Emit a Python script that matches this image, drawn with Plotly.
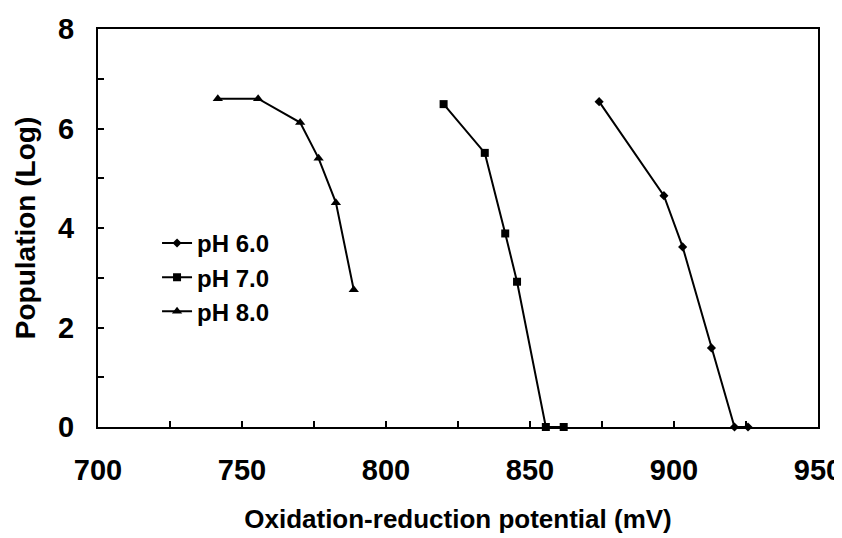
import plotly.graph_objects as go

# Data
ph6_x = [874, 896.5, 903, 913, 921, 925.7]
ph6_y = [6.54, 4.65, 3.62, 1.59, 0.0, 0.0]
ph7_x = [820, 834.3, 841.4, 845.5, 855.5, 861.7]
ph7_y = [6.49, 5.51, 3.89, 2.92, 0.0, 0.0]
ph8_x = [741.6, 755.6, 770.2, 776.6, 782.6, 788.8]
ph8_y = [6.6, 6.6, 6.12, 5.4, 4.51, 2.76]

series_names = ["pH 6.0", "pH 7.0", "pH 8.0"]
x_ticks = [700, 750, 800, 850, 900, 950]
y_ticks = [0, 2, 4, 6, 8]

FONT = "Liberation Sans Narrow, Arial Narrow, Liberation Sans, Arial, sans-serif"

fig = go.Figure()
for name, xs, ys, sym, size in [
    (series_names[0], ph6_x, ph6_y, "diamond", 7),
    (series_names[1], ph7_x, ph7_y, "square", 8),
    (series_names[2], ph8_x, ph8_y, "triangle-up", 9),
]:
    fig.add_trace(go.Scatter(
        x=xs, y=ys, name=name, mode="lines+markers",
        line=dict(color="black", width=2),
        marker=dict(symbol=sym, size=size, color="black"),
        cliponaxis=False,
    ))

axis_common = dict(
    showline=True, linecolor="black", linewidth=2, mirror=True,
    showgrid=False, zeroline=False, ticks="inside", ticklen=6,
    tickcolor="black", tickwidth=1.5, ticklabeloverflow="allow",
    automargin=False,
    tickfont=dict(family=FONT, size=29, color="black", weight="bold"),
)

fig.update_xaxes(
    range=[700, 950], tickvals=x_ticks, ticktext=[str(v) for v in x_ticks],
    minor=dict(ticks="inside", dtick=25, ticklen=6, tickcolor="black", tickwidth=1.5),
    ticklabelstandoff=16,
    title=dict(text="Oxidation-reduction potential (mV)",
               font=dict(family=FONT, size=26, color="black", weight="bold"),
               standoff=25),
    **axis_common,
)
fig.update_yaxes(
    range=[0, 8], tickvals=y_ticks, ticktext=[str(v) for v in y_ticks],
    minor=dict(ticks="inside", dtick=1, ticklen=6, tickcolor="black", tickwidth=1.5),
    ticklabelstandoff=16,
    title=dict(text="Population (Log)",
               font=dict(family=FONT, size=28, color="black", weight="bold"),
               standoff=14),
    **axis_common,
)

fig.update_layout(
    width=842, height=538,
    margin=dict(l=90, r=32, t=21, b=119),
    paper_bgcolor="white", plot_bgcolor="white",
    showlegend=True,
    legend=dict(x=0.082, y=0.518, xanchor="left", yanchor="top",
                bgcolor="rgba(0,0,0,0)",
                font=dict(family=FONT, size=24, color="black", weight="bold"),
                tracegroupgap=0),
)

fig.write_html("out.html")
